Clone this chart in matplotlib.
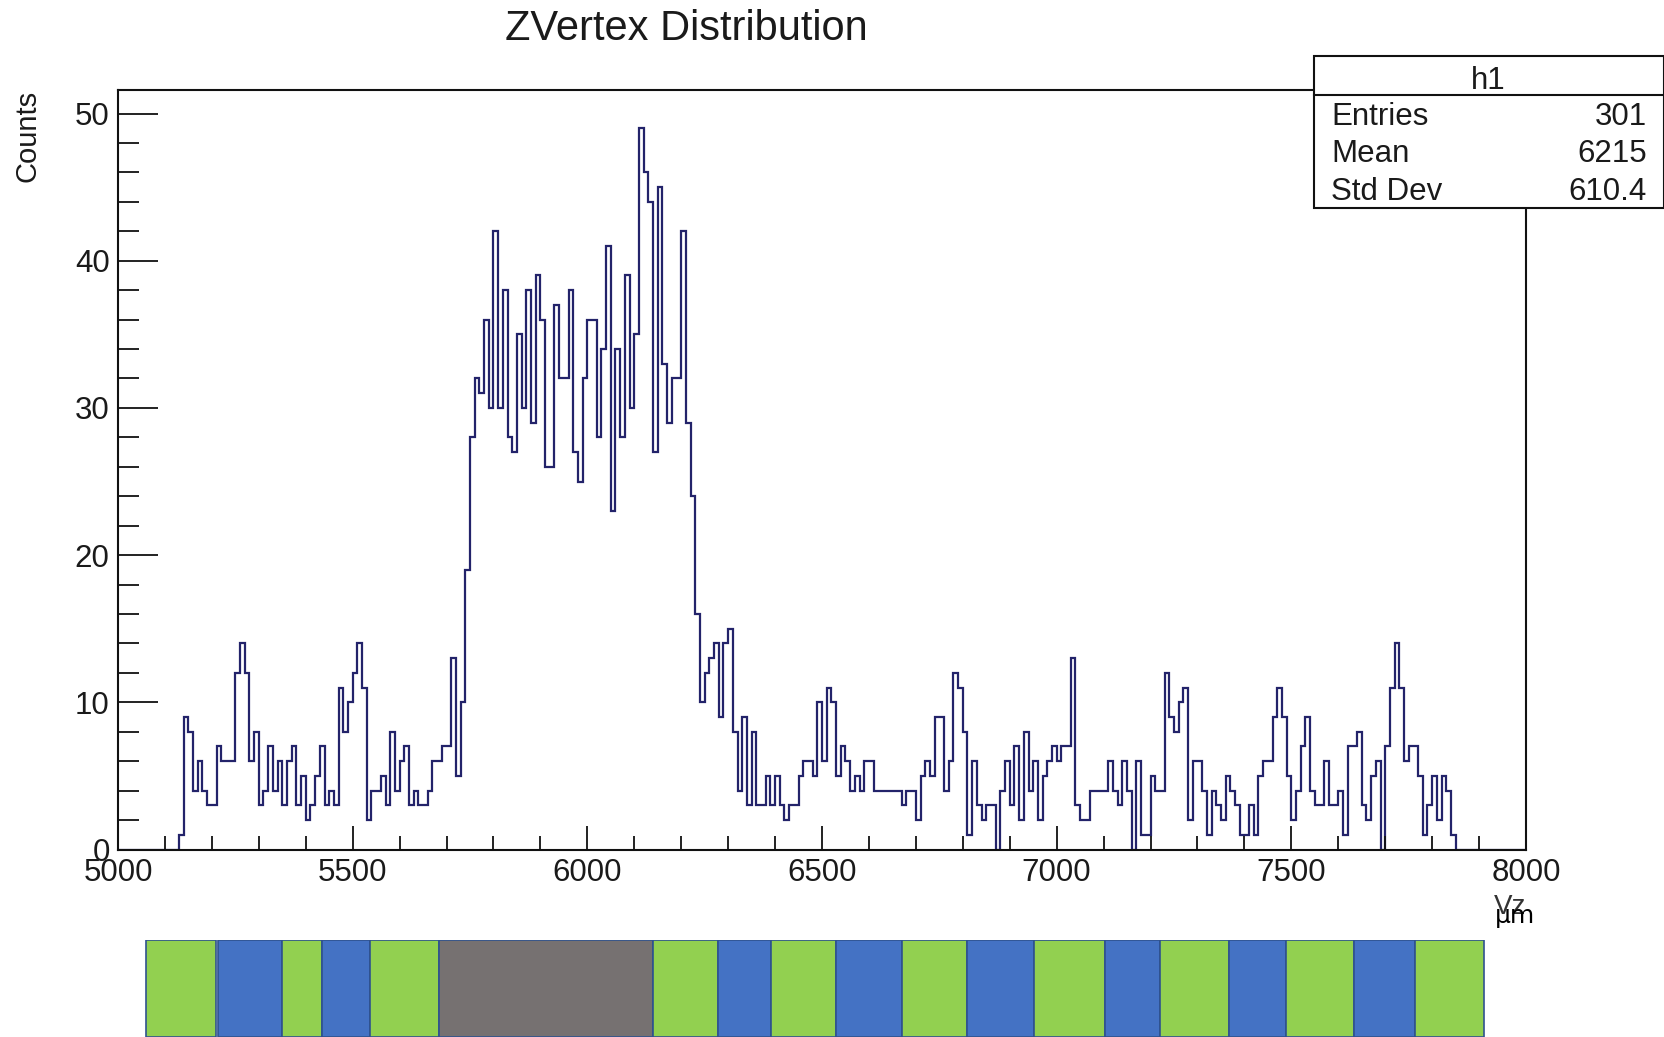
import numpy as np
import matplotlib
matplotlib.use('Agg')
import matplotlib.pyplot as plt
from matplotlib.ticker import MultipleLocator
from matplotlib.patches import Rectangle

# histogram h1: Vz in 10 um bins over [5000, 8000]
bin_edges = np.arange(5000, 8001, 10)
first_filled = 5130
filled_counts = [
    1, 9, 8, 4, 6, 4, 3, 3, 7, 6, 6, 6, 12, 14, 12, 6, 8, 3, 4, 7,      # 5130-5320
    4, 6, 3, 6, 7, 3, 5, 2, 3, 5, 7, 3, 4, 3, 11, 8, 10, 12, 14, 11,     # 5330-5520
    2, 4, 4, 5, 3, 8, 4, 6, 7, 3, 4, 3, 3, 4, 6, 6, 7, 7, 13, 5,         # 5530-5720
    10, 19, 28, 32, 31, 36, 30, 42, 30, 38, 28, 27, 35, 30, 38, 29, 39, 36, 26, 26,  # 5730-5920
    37, 32, 32, 38, 27, 25, 32, 36, 36, 28, 34, 41, 23, 34, 28, 39, 30, 35, 49, 46,  # 5930-6120
    44, 27, 45, 33, 29, 32, 32, 42, 29, 24, 16, 10, 12, 13, 14, 9, 14, 15, 8, 4,     # 6130-6320
    9, 3, 8, 3, 3, 5, 3, 5, 3, 2, 3, 3, 5, 6, 6, 5, 10, 6, 11, 10,       # 6330-6520
    5, 7, 6, 4, 5, 4, 6, 6, 4, 4, 4, 4, 4, 4, 3, 4, 4, 2, 5, 6,          # 6530-6720
    5, 9, 9, 4, 6, 12, 11, 8, 1, 6, 3, 2, 3, 3, 0, 4, 6, 3, 7, 2,        # 6730-6920
    8, 4, 6, 2, 5, 6, 7, 6, 7, 7, 13, 3, 2, 2, 4, 4, 4, 4, 6, 4,         # 6930-7120
    3, 6, 4, 0, 6, 1, 1, 5, 4, 4, 12, 9, 8, 10, 11, 2, 6, 6, 4, 1,       # 7130-7320
    4, 3, 2, 5, 4, 3, 1, 1, 3, 1, 5, 6, 6, 9, 11, 9, 5, 2, 4, 7,         # 7330-7520
    9, 4, 3, 3, 6, 3, 3, 4, 1, 7, 7, 8, 3, 2, 5, 6, 0, 7, 11, 14,        # 7530-7720
    11, 6, 7, 7, 5, 1, 3, 5, 2, 5, 4, 1,                                 # 7730-7840
]
counts = np.zeros(len(bin_edges) - 1)
i0 = (first_filled - bin_edges[0]) // 10
counts[i0:i0 + len(filled_counts)] = filled_counts

stat_names = ['Entries', 'Mean', 'Std Dev']
stat_values = ['301', '6215', '610.4']

# coloured strip under the plot (edges in Vz units)
strip_start = [5059, 5213, 5349, 5435, 5536, 5683, 6140, 6279, 6392, 6530,
               6670, 6808, 6951, 7104, 7220, 7367, 7489, 7634, 7763]
strip_end = [5208, 5349, 5435, 5536, 5683, 6140, 6279, 6392, 6530, 6670,
             6808, 6951, 7104, 7220, 7367, 7489, 7634, 7763, 7910]
GREEN, BLUE, GREY = '#92D050', '#4472C4', '#767171'
strip_colors = [GREEN, BLUE, GREEN, BLUE, GREEN, GREY, GREEN, BLUE, GREEN, BLUE,
                GREEN, BLUE, GREEN, BLUE, GREEN, BLUE, GREEN, BLUE, GREEN]

W, H = 1665, 1037
FONT = 'Liberation Sans'
TXT = '#1a1a1a'


def fx(px):
    return px / W


def fy(py):
    return 1 - py / H


fig = plt.figure(figsize=(W / 100, H / 100), dpi=100)
fig.patch.set_facecolor('white')

ax = fig.add_axes([fx(118), fy(849.5), fx(1526) - fx(118), fy(90) - fy(849.5)])
ax.stairs(counts, bin_edges, color='#23236a', linewidth=1.6)
ax.set_xlim(5000, 8000)
ax.set_ylim(0, 51.6)

for s in ax.spines.values():
    s.set_linewidth(1.5)
    s.set_color('#111111')

ax.xaxis.set_major_locator(MultipleLocator(500))
ax.xaxis.set_minor_locator(MultipleLocator(100))
ax.yaxis.set_major_locator(MultipleLocator(10))
ax.yaxis.set_minor_locator(MultipleLocator(2))
ax.tick_params(axis='both', which='both', direction='in', color='#111111', width=1.3,
               top=False, right=False, labelcolor=TXT)
ax.tick_params(axis='x', which='major', length=17, pad=6)
ax.tick_params(axis='x', which='minor', length=10)
ax.tick_params(axis='y', which='major', length=29, pad=6)
ax.tick_params(axis='y', which='minor', length=15)
for lab in ax.get_xticklabels() + ax.get_yticklabels():
    lab.set_fontfamily(FONT)
    lab.set_fontsize(22.5)

# titles
fig.text(fx(686), fy(29), 'ZVertex Distribution', ha='center', va='center',
         fontsize=30, family=FONT, color=TXT)
fig.text(fx(28), fy(90), 'Counts', ha='center', va='top', rotation=90,
         fontsize=21, family=FONT, color=TXT)
fig.text(fx(1526), fy(914), 'Vz', ha='right', va='baseline',
         fontsize=20, family=FONT, color='#333333')
fig.text(fx(1495), fy(923), 'µm', ha='left', va='baseline',
         fontsize=18, family='DejaVu Sans', color='black')

# stats box
fig.patches.append(Rectangle((fx(1314), fy(208)), fx(1664) - fx(1314), fy(56) - fy(208),
                             transform=fig.transFigure, facecolor='white',
                             edgecolor='#111111', linewidth=1.5, zorder=5))
fig.lines.append(plt.Line2D([fx(1314), fx(1664)], [fy(95), fy(95)],
                            transform=fig.transFigure, color='#111111', linewidth=1.5, zorder=6))
fig.text(fx(1488), fy(89), 'h1', ha='center', va='baseline', fontsize=22.5,
         family=FONT, color=TXT, zorder=7)
row_base = [125, 162, 200]
for name, val, yb in zip(stat_names, stat_values, row_base):
    fig.text(fx(1331), fy(yb), name, ha='left', va='baseline', fontsize=22.5,
             family=FONT, color=TXT, zorder=7)
    fig.text(fx(1647), fy(yb), val, ha='right', va='baseline', fontsize=22.5,
             family=FONT, color=TXT, zorder=7)

# coloured strip
sax = fig.add_axes([fx(118), 0, fx(1526) - fx(118), fy(940)])
sax.bar(strip_start, 1.2, width=np.array(strip_end) - np.array(strip_start),
        bottom=0, align='edge', color=strip_colors, edgecolor='#2F528F', linewidth=1.2)
sax.set_xlim(5000, 8000)
sax.set_ylim(0, 1.2)
sax.axis('off')

fig.savefig('out.png', dpi=100, facecolor='white')
